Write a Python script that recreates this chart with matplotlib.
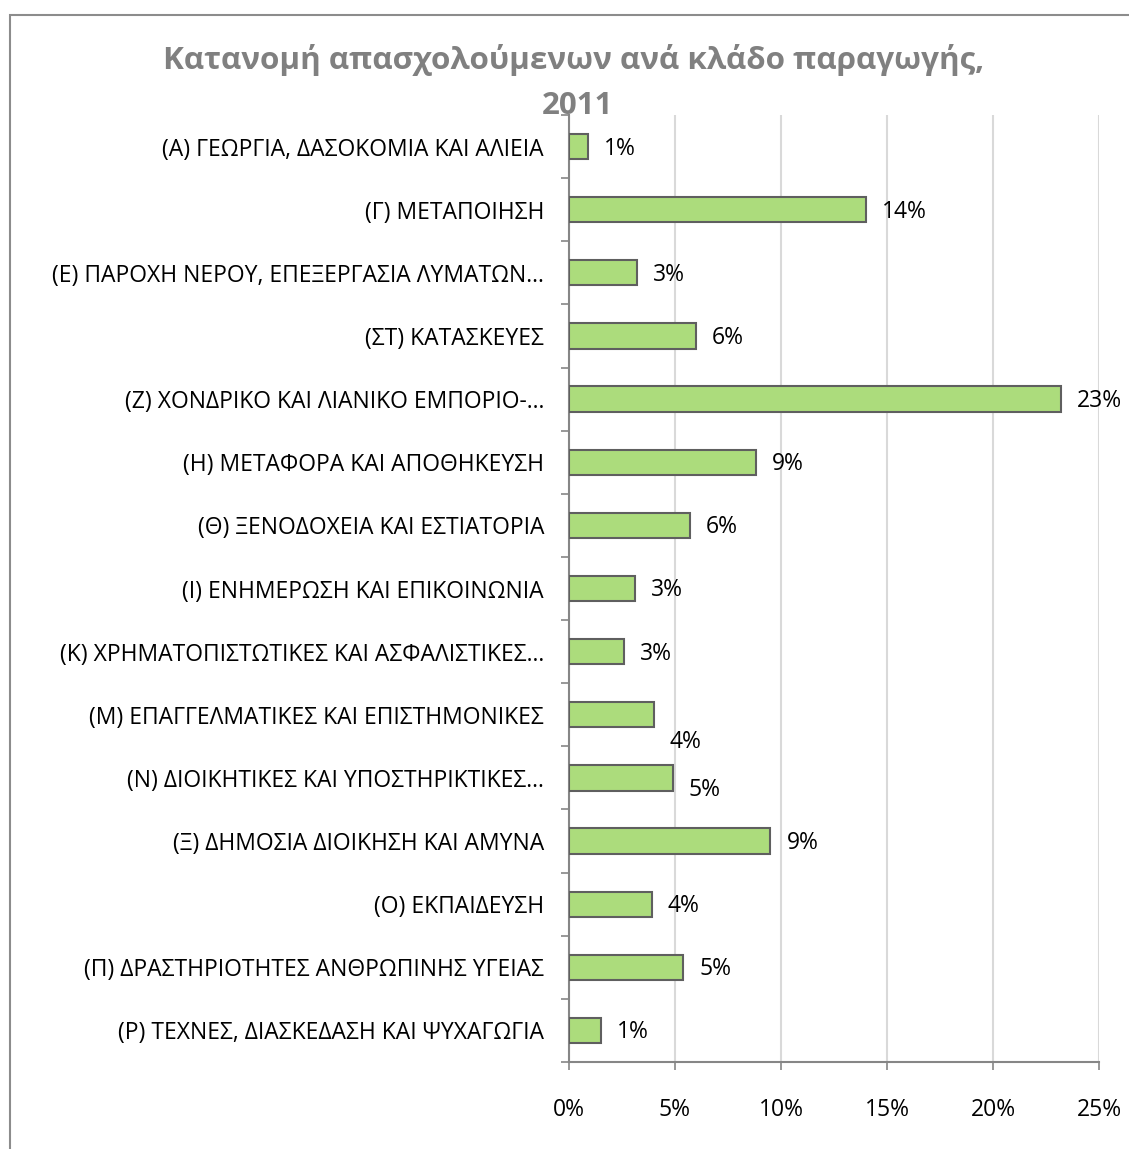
import matplotlib.pyplot as plt
from matplotlib.patches import Rectangle
from matplotlib.ticker import FixedLocator

plt.rcParams['font.family'] = ['Open Sans', 'DejaVu Sans']

categories = [
    '(Α) ΓΕΩΡΓΙΑ, ΔΑΣΟΚΟΜΙΑ ΚΑΙ ΑΛΙΕΙΑ',
    '(Γ) ΜΕΤΑΠΟΙΗΣΗ',
    '(Ε) ΠΑΡΟΧΗ ΝΕΡΟΥ, ΕΠΕΞΕΡΓΑΣΙΑ ΛΥΜΑΤΩΝ…',
    '(ΣΤ) ΚΑΤΑΣΚΕΥΕΣ',
    '(Ζ) ΧΟΝΔΡΙΚΟ ΚΑΙ ΛΙΑΝΙΚΟ ΕΜΠΟΡΙΟ-…',
    '(Η) ΜΕΤΑΦΟΡΑ ΚΑΙ ΑΠΟΘΗΚΕΥΣΗ',
    '(Θ) ΞΕΝΟΔΟΧΕΙΑ ΚΑΙ ΕΣΤΙΑΤΟΡΙΑ',
    '(Ι) ΕΝΗΜΕΡΩΣΗ ΚΑΙ ΕΠΙΚΟΙΝΩΝΙΑ',
    '(Κ) ΧΡΗΜΑΤΟΠΙΣΤΩΤΙΚΕΣ ΚΑΙ ΑΣΦΑΛΙΣΤΙΚΕΣ…',
    '(Μ) ΕΠΑΓΓΕΛΜΑΤΙΚΕΣ ΚΑΙ ΕΠΙΣΤΗΜΟΝΙΚΕΣ',
    '(Ν) ΔΙΟΙΚΗΤΙΚΕΣ ΚΑΙ ΥΠΟΣΤΗΡΙΚΤΙΚΕΣ…',
    '(Ξ) ΔΗΜΟΣΙΑ ΔΙΟΙΚΗΣΗ ΚΑΙ ΑΜΥΝΑ',
    '(Ο) ΕΚΠΑΙΔΕΥΣΗ',
    '(Π) ΔΡΑΣΤΗΡΙΟΤΗΤΕΣ ΑΝΘΡΩΠΙΝΗΣ ΥΓΕΙΑΣ',
    '(Ρ) ΤΕΧΝΕΣ, ΔΙΑΣΚΕΔΑΣΗ ΚΑΙ ΨΥΧΑΓΩΓΙΑ',
]
values = [0.9, 14.0, 3.2, 6.0, 23.2, 8.8, 5.7, 3.1, 2.6, 4.0, 4.9, 9.5, 3.9, 5.4, 1.5]
labels = ['1%', '14%', '3%', '6%', '23%', '9%', '6%', '3%', '3%', '4%', '5%', '9%', '4%', '5%', '1%']
# extra downward shift (pixels) of a few data labels, as in the original
label_dy = [0, 0, 0, 0, 0, 0, 0, 0, 0, -25, -10, 0, 0, 0, 0]
xticks = [0, 5, 10, 15, 20, 25]

W, H = 1129, 1149
fig = plt.figure(figsize=(W / 100, H / 100), dpi=100)
ax = fig.add_axes([569 / W, 1 - 1062 / H, (1099 - 569) / W, (1062 - 115) / H])

# chart frame (only top and left visible)
fig.patches.append(Rectangle((9.5 / W, -0.1), 1.2, 1 - 15 / H + 0.1, transform=fig.transFigure,
                             fill=False, edgecolor='#8c8c8c', linewidth=1.5))

n = len(categories)
ypos = list(range(n))
ax.barh(ypos, values, height=0.4, color='#acdc7c', edgecolor='#5f5f5f', linewidth=1.5, zorder=3)
ax.set_ylim(n - 0.5, -0.5)
ax.set_xlim(0, 25)

for y, v, lab, dy in zip(ypos, values, labels, label_dy):
    ax.annotate(lab, (v, y), xytext=(16, dy - 2), textcoords='offset pixels',
                va='center', ha='left', fontsize=16.5, color='black')

ax.set_yticks(ypos)
ax.set_yticklabels(categories, fontsize=16.5)
ax.yaxis.set_minor_locator(FixedLocator([i - 0.5 for i in range(n + 1)]))
ax.tick_params(axis='y', which='major', length=0, pad=18)
ax.tick_params(axis='y', which='minor', length=6, color='#868686', width=1.2)

ax.set_xticks(xticks)
ax.set_xticklabels([f'{t}%' for t in xticks], fontsize=16.5)
ax.tick_params(axis='x', length=6, color='#868686', width=1.2, pad=20)
ax.grid(axis='x', color='#d9d9d9', linewidth=1.5, zorder=0)

for s in ['top', 'right']:
    ax.spines[s].set_visible(False)
for s in ['left', 'bottom']:
    ax.spines[s].set_color('#868686')
    ax.spines[s].set_linewidth(1.5)

title_style = dict(ha='center', va='center', fontsize=22.6, fontweight='bold', color='#808080')
fig.text(574 / W, 1 - 60 / H, 'Κατανομή απασχολούμενων ανά κλάδο παραγωγής,', **title_style)
fig.text(578 / W, 1 - 106 / H, '2011', **title_style)

fig.savefig('out.png', dpi=100)
